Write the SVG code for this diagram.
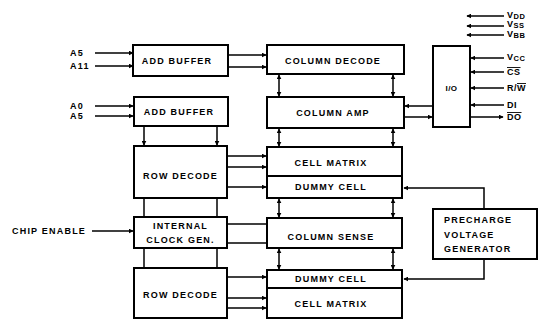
<svg xmlns="http://www.w3.org/2000/svg" width="545" height="320" viewBox="0 0 545 320">
<defs>
<marker id="ah" viewBox="0 0 8 8" refX="7" refY="4" markerWidth="5" markerHeight="5" orient="auto-start-reverse" markerUnits="userSpaceOnUse">
<path d="M0,0 L8,4 L0,8 z" fill="#000"/>
</marker>
<style>
.b{fill:#fff;stroke:#000;stroke-width:2}
.t{font-family:"Liberation Sans",Arial,sans-serif;font-weight:bold;font-size:9px;letter-spacing:1.2px;fill:#000}
.m{text-anchor:middle}
.l{stroke:#000;stroke-width:1.5;fill:none}
.a{stroke:#000;stroke-width:1.5;fill:none;marker-end:url(#ah)}
.d{stroke:#000;stroke-width:1.5;fill:none;marker-end:url(#ah);marker-start:url(#ah)}
</style>
</defs>
<rect width="545" height="320" fill="#fff"/>

<g id="connectors">
<line class="a" x1="95" y1="53" x2="133" y2="53"/>
<line class="a" x1="95" y1="66" x2="133" y2="66"/>
<line class="a" x1="95" y1="106" x2="133" y2="106"/>
<line class="a" x1="95" y1="116" x2="133" y2="116"/>
<line class="a" x1="92" y1="231" x2="133" y2="231"/>
<line class="a" x1="228" y1="55" x2="266" y2="55"/>
<line class="a" x1="228" y1="67" x2="266" y2="67"/>
<line class="a" x1="144" y1="126" x2="144" y2="145"/>
<line class="a" x1="217" y1="126" x2="217" y2="145"/>
<line class="l" x1="144" y1="198" x2="144" y2="217"/>
<line class="l" x1="217" y1="198" x2="217" y2="217"/>
<line class="l" x1="144" y1="248" x2="144" y2="268"/>
<line class="l" x1="217" y1="248" x2="217" y2="268"/>
<line class="a" x1="227" y1="156" x2="266" y2="156"/>
<line class="a" x1="227" y1="167" x2="266" y2="167"/>
<line class="a" x1="227" y1="187" x2="266" y2="187"/>
<line class="l" x1="227" y1="224" x2="267" y2="224"/>
<line class="l" x1="227" y1="243" x2="267" y2="243"/>
<line class="a" x1="227" y1="277" x2="266" y2="277"/>
<line class="a" x1="227" y1="298" x2="266" y2="298"/>
<line class="a" x1="227" y1="308" x2="266" y2="308"/>
<line class="d" x1="279" y1="75" x2="279" y2="96"/>
<line class="d" x1="393" y1="75" x2="393" y2="96"/>
<line class="d" x1="279" y1="129" x2="279" y2="146"/>
<line class="d" x1="393" y1="129" x2="393" y2="146"/>
<line class="d" x1="279" y1="199" x2="279" y2="217"/>
<line class="d" x1="393" y1="199" x2="393" y2="217"/>
<line class="d" x1="279" y1="249" x2="279" y2="269"/>
<line class="d" x1="393" y1="249" x2="393" y2="269"/>
<line class="a" x1="433" y1="106" x2="405" y2="106"/>
<line class="a" x1="404" y1="117" x2="432" y2="117"/>
<line class="a" x1="504" y1="16" x2="467" y2="16"/>
<line class="a" x1="504" y1="26" x2="467" y2="26"/>
<line class="a" x1="504" y1="35" x2="467" y2="35"/>
<line class="a" x1="504" y1="58" x2="471" y2="58"/>
<line class="a" x1="504" y1="72" x2="471" y2="72"/>
<line class="a" x1="504" y1="88" x2="471" y2="88"/>
<line class="a" x1="504" y1="105" x2="471" y2="105"/>
<line class="a" x1="470" y1="117" x2="503" y2="117"/>
<polyline class="a" points="484,209 484,188 404,188"/>
<polyline class="a" points="484,259 484,279 404,279"/>
</g>

<g id="add-buffer-1"><rect class="b" x="133" y="45" width="95" height="31"/><text class="t m" x="177" y="64">ADD BUFFER</text></g>
<g id="add-buffer-2"><rect class="b" x="134" y="97" width="94" height="29"/><text class="t m" x="179" y="115">ADD BUFFER</text></g>
<g id="row-decode-1"><rect class="b" x="134" y="146" width="93" height="52"/><text class="t m" x="180.5" y="179">ROW DECODE</text></g>
<g id="clock-gen"><rect class="b" x="134" y="217" width="93" height="31"/><text class="t m" x="180.5" y="229">INTERNAL</text><text class="t m" x="180.5" y="243">CLOCK GEN.</text></g>
<g id="row-decode-2"><rect class="b" x="134" y="268" width="93" height="50"/><text class="t m" x="180.5" y="298">ROW DECODE</text></g>

<g id="column-decode"><rect class="b" x="267" y="45" width="137" height="29"/><text class="t m" x="333" y="64">COLUMN DECODE</text></g>
<g id="column-amp"><rect class="b" x="267" y="97" width="137" height="31"/><text class="t m" x="333" y="116">COLUMN AMP</text></g>
<g id="cell-matrix-1"><rect class="b" x="267" y="147" width="135" height="29"/><text class="t m" x="331" y="166">CELL MATRIX</text></g>
<g id="dummy-cell-1"><rect class="b" x="267" y="176" width="135" height="22"/><text class="t m" x="331" y="190">DUMMY CELL</text></g>
<g id="column-sense"><rect class="b" x="267" y="218" width="135" height="30"/><text class="t m" x="331" y="240">COLUMN SENSE</text></g>
<g id="dummy-cell-2"><rect class="b" x="267" y="270" width="135" height="18"/><text class="t m" x="331" y="282">DUMMY CELL</text></g>
<g id="cell-matrix-2"><rect class="b" x="267" y="288" width="135" height="30"/><text class="t m" x="331" y="307">CELL MATRIX</text></g>

<g id="io"><rect class="b" x="433" y="46" width="37" height="81"/><text class="t m" x="451.5" y="91" style="letter-spacing:0.5px;font-size:8px">I/O</text></g>
<g id="precharge"><rect class="b" x="433" y="209" width="104" height="50"/><text class="t" x="444" y="223">PRECHARGE</text><text class="t" x="444" y="238">VOLTAGE</text><text class="t" x="444" y="252">GENERATOR</text></g>

<g id="labels">
<text class="t" x="70" y="56">A5</text>
<text class="t" x="70" y="69">A11</text>
<text class="t" x="70" y="109">A0</text>
<text class="t" x="70" y="119">A5</text>
<text class="t" x="12" y="234">CHIP ENABLE</text>
<text class="t" x="507" y="18" style="letter-spacing:0.5px">V<tspan font-size="7.5" dy="1">DD</tspan></text>
<text class="t" x="507" y="27" style="letter-spacing:0.5px">V<tspan font-size="7.5" dy="1">SS</tspan></text>
<text class="t" x="507" y="37" style="letter-spacing:0.5px">V<tspan font-size="7.5" dy="1">BB</tspan></text>
<text class="t" x="507" y="60" style="letter-spacing:0.5px">V<tspan font-size="7.5" dy="1">CC</tspan></text>
<text class="t" x="507" y="75" text-decoration="overline" style="letter-spacing:0.5px">CS</text>
<text class="t" x="507" y="91" style="letter-spacing:0.5px">R/<tspan text-decoration="overline">W</tspan></text>
<text class="t" x="507" y="108" style="letter-spacing:0.5px">DI</text>
<text class="t" x="507" y="120" text-decoration="overline" style="letter-spacing:0.5px">DO</text>
</g>
</svg>
